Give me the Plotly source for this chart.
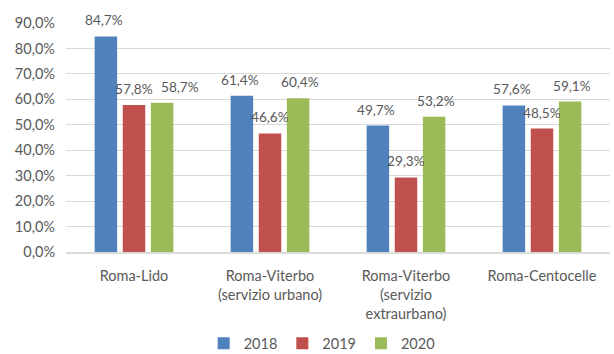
import plotly.graph_objects as go

categories = [
    "Roma-Lido",
    "Roma-Viterbo<br>(servizio urbano)",
    "Roma-Viterbo<br>(servizio<br>extraurbano)",
    "Roma-Centocelle",
]
years = ["2018", "2019", "2020"]
values_2018 = [84.7, 61.4, 49.7, 57.6]
values_2019 = [57.8, 46.6, 29.3, 48.5]
values_2020 = [58.7, 60.4, 53.2, 59.1]
colors = ["#4F81BD", "#C0504D", "#9BBB59"]

text_color = "#595959"
font_family = "Lato, 'Noto Sans', sans-serif"
font_size = 14.5
label_size = 13.6

# pixel offset of each bar from its category centre (bar width + gap)
bar_step = 30
# extra horizontal nudge for labels that would collide with a neighbour
label_nudge = {(2, 0): 16}

fig = go.Figure()
series = [values_2018, values_2019, values_2020]
for i, (name, vals, col) in enumerate(zip(years, series, colors)):
    fig.add_trace(go.Bar(
        x=categories,
        y=vals,
        name=name,
        marker=dict(color=col, line=dict(width=0)),
    ))
    # value labels placed above each bar
    for j, (cat, v) in enumerate(zip(categories, vals)):
        fig.add_annotation(
            x=cat, y=v, xref="x", yref="y",
            text=f"{v:.1f}%".replace(".", ","),
            showarrow=False,
            xanchor="center", yanchor="bottom",
            xshift=(i - 1) * bar_step + label_nudge.get((i, j), 0),
            yshift=7,
            borderpad=0,
            font=dict(size=label_size, color=text_color, family=font_family),
        )

fig.update_layout(
    width=614,
    height=354,
    margin=dict(l=66, r=4, t=23, b=102, autoexpand=False),
    paper_bgcolor="white",
    plot_bgcolor="white",
    separators=",.",
    barmode="group",
    bargap=0.38,
    bargroupgap=0.2,
    font=dict(family=font_family, size=font_size, color=text_color),
    legend=dict(
        orientation="h",
        x=0.47,
        xanchor="center",
        yref="container",
        y=0.03,
        yanchor="middle",
        font=dict(size=font_size, color=text_color),
        itemwidth=30,
        tracegroupgap=0,
    ),
)
fig.update_yaxes(
    range=[0, 90],
    dtick=10,
    tickformat=".1f",
    ticksuffix="%",
    showgrid=True,
    gridcolor="#D9D9D9",
    gridwidth=1,
    zeroline=False,
    showline=False,
    ticks="",
    ticklabelstandoff=10,
    tickfont=dict(size=font_size, color=text_color),
)
fig.update_xaxes(
    showline=True,
    linecolor="#D9D9D9",
    linewidth=2,
    ticks="",
    ticklabelstandoff=10,
    tickfont=dict(size=font_size, color=text_color),
)

fig.write_html("out.html")
